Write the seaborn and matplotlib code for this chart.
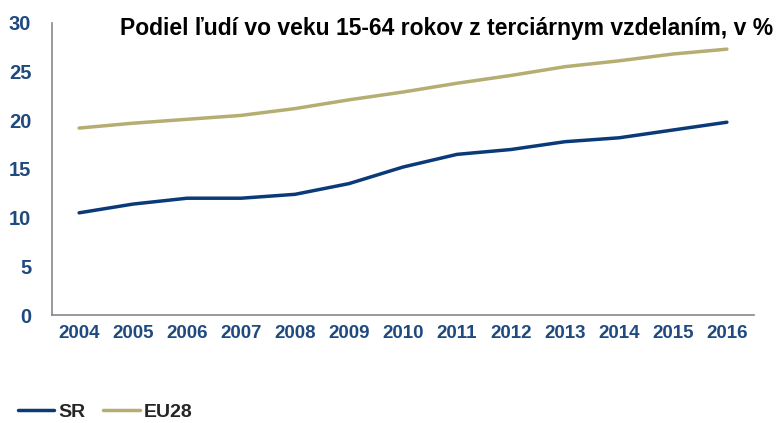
"""Podiel ľudí vo veku 15-64 rokov z terciárnym vzdelaním."""

import matplotlib
matplotlib.use("Agg")
import matplotlib.pyplot as plt
import pandas as pd
import seaborn as sns

years = [str(y) for y in range(2004, 2017)]
sr = [10.5, 11.4, 12.0, 12.0, 12.4, 13.5, 15.2, 16.5, 17.0, 17.8, 18.2, 19.0, 19.8]
eu28 = [19.2, 19.7, 20.1, 20.5, 21.2, 22.1, 22.9, 23.8, 24.6, 25.5, 26.1, 26.8, 27.3]
y_ticks = [0, 5, 10, 15, 20, 25, 30]

TICK_COLOR = "#1F4A80"
COLORS = {"SR": "#0B3A78", "EU28": "#B5AD72"}

sns.set_theme(style="white")
plt.rcParams["font.family"] = ["Liberation Sans", "DejaVu Sans"]
plt.rcParams["font.weight"] = "bold"

df = pd.DataFrame(
    {
        "rok": years * 2,
        "hodnota": sr + eu28,
        "krajina": ["SR"] * len(years) + ["EU28"] * len(years),
    }
)

fig = plt.figure(figsize=(7.78, 4.23), dpi=100)
ax = fig.add_axes([0.067, 0.255, 0.902, 0.691])

sns.lineplot(
    data=df, x="rok", y="hodnota", hue="krajina", palette=COLORS,
    linewidth=2.5, ax=ax, sort=False,
)

ax.set_xlim(-0.5, len(years) - 0.5)
ax.set_ylim(0, 30)
ax.set_yticks(y_ticks)
ax.set_xticks(range(len(years)), labels=years)
ax.set_xlabel("")
ax.set_ylabel("")

for side in ["top", "right"]:
    ax.spines[side].set_visible(False)
for side in ["left", "bottom"]:
    ax.spines[side].set_color("#888888")
    ax.spines[side].set_linewidth(1.2)

ax.tick_params(axis="y", length=0, pad=15, labelsize=14.5, labelcolor=TICK_COLOR)
ax.tick_params(axis="x", length=0, pad=7, labelsize=13.5, labelcolor=TICK_COLOR)

fig.text(
    0.574, 0.933, "Podiel ľudí vo veku 15-64 rokov z terciárnym vzdelaním, v %",
    ha="center", va="center", fontsize=16.5, fontweight="bold", color="black",
)

handles, labels = ax.get_legend_handles_labels()
ax.legend_.remove()
fig.legend(
    handles, labels, loc="center left", bbox_to_anchor=(0.0, 0.026),
    ncol=2, frameon=False, handlelength=1.9, handletextpad=0.2,
    columnspacing=0.9, prop={"weight": "bold", "size": 14},
)

fig.canvas.draw()
plt.setp(ax.get_yticklabels() + ax.get_xticklabels(), fontweight="heavy")

fig.savefig("out.png", dpi=100)
